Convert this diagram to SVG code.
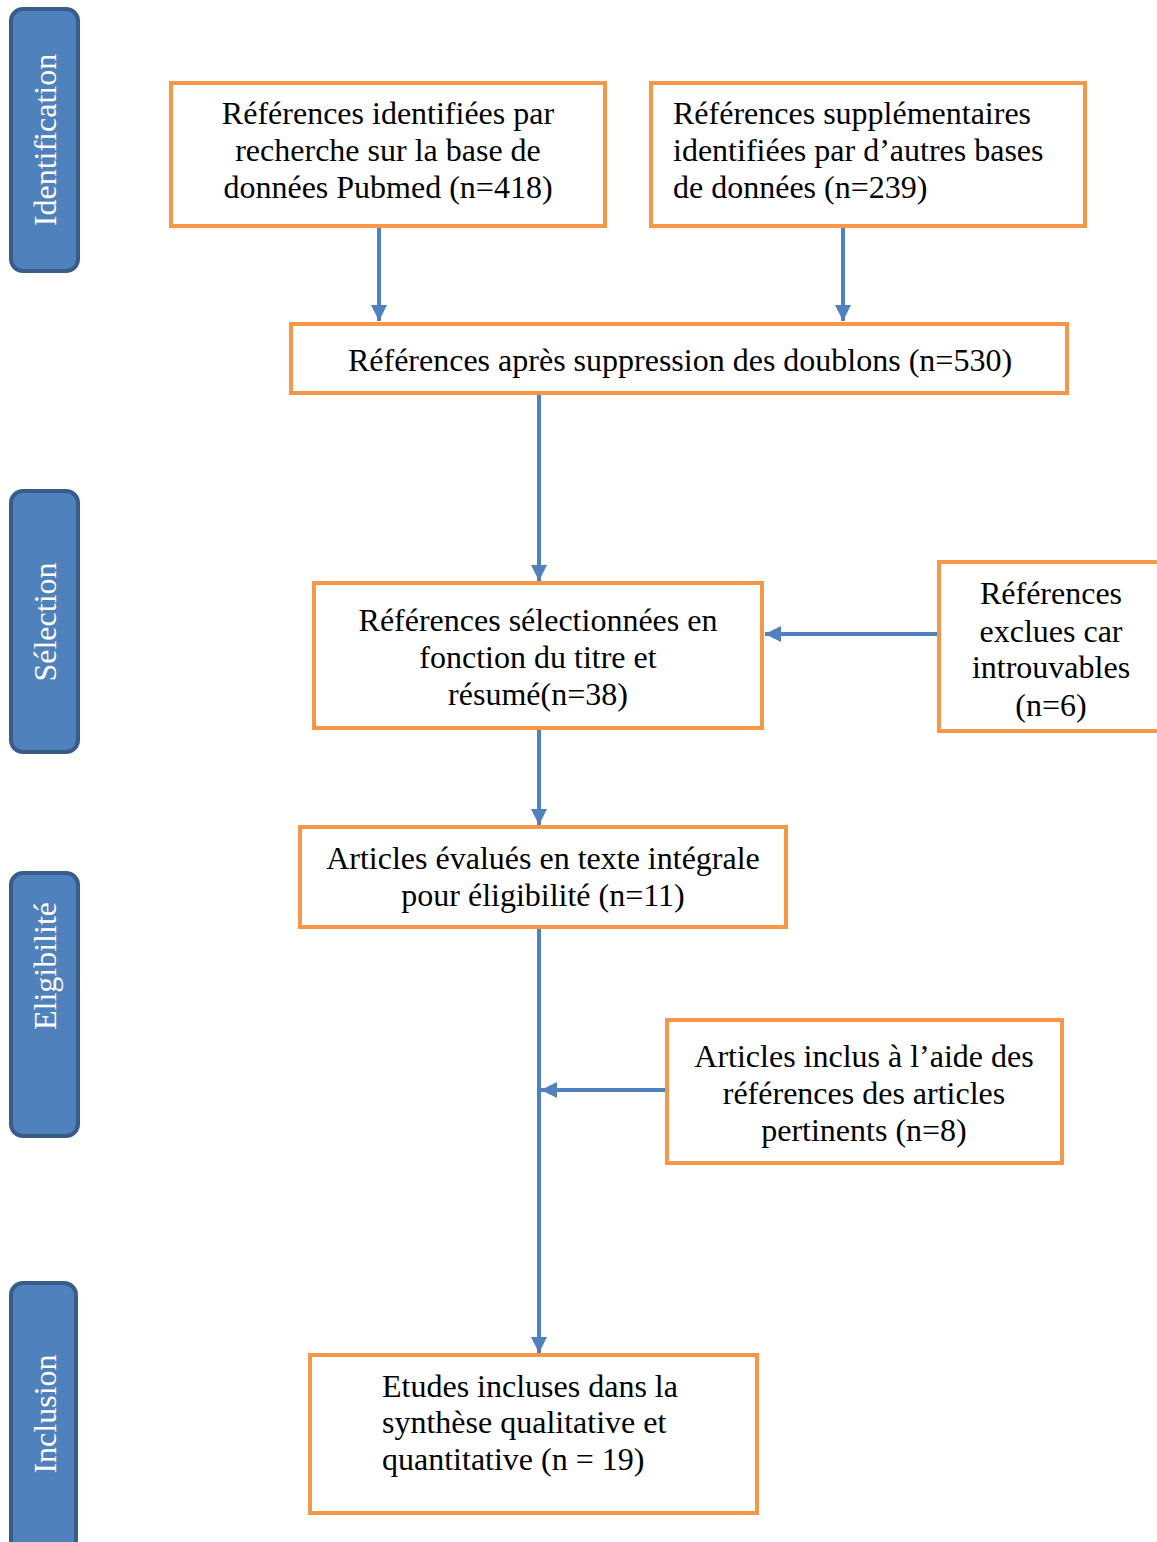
<svg xmlns="http://www.w3.org/2000/svg" width="1157" height="1542" viewBox="0 0 1157 1542">
<style>
.box{fill:#fff;stroke:#f79646;stroke-width:4}
.bar{fill:#4f81bd;stroke:#385d8a;stroke-width:4}
.t{font-family:"Liberation Serif","Times New Roman",serif;font-size:32px;fill:#000}
.c{text-anchor:middle}
.s{font-family:"Liberation Serif","Times New Roman",serif;font-size:32px;fill:#fff;text-anchor:middle}
.ln{stroke:#4f81bd;stroke-width:4;fill:none}
</style>
<defs>
<marker id="ah" viewBox="0 0 10 10" refX="10" refY="5" markerWidth="4" markerHeight="4" markerUnits="strokeWidth" orient="auto">
<path d="M0,0 L10,5 L0,10 z" fill="#4f81bd"/>
</marker>
</defs>
<rect width="1157" height="1542" fill="#fff"/>
<g id="bar-identification"><rect class="bar" x="11" y="9" width="67" height="262" rx="12"/><text class="s" transform="translate(56,140) rotate(-90)">Identification</text></g>
<g id="bar-selection"><rect class="bar" x="11" y="491" width="67" height="261" rx="12"/><text class="s" transform="translate(56,622) rotate(-90)">Sélection</text></g>
<g id="bar-eligibilite"><rect class="bar" x="11" y="873" width="67" height="263" rx="12"/><text class="s" transform="translate(56,966) rotate(-90)">Eligibilité</text></g>
<g id="bar-inclusion"><rect class="bar" x="11" y="1283" width="65" height="275" rx="12"/><text class="s" transform="translate(56,1414) rotate(-90)">Inclusion</text></g>

<g id="connectors">
<line class="ln" x1="379" y1="227" x2="379" y2="321" marker-end="url(#ah)"/>
<line class="ln" x1="843" y1="227" x2="843" y2="321" marker-end="url(#ah)"/>
<line class="ln" x1="539" y1="395" x2="539" y2="581" marker-end="url(#ah)"/>
<line class="ln" x1="938" y1="634" x2="765" y2="634" marker-end="url(#ah)"/>
<line class="ln" x1="539" y1="730" x2="539" y2="825" marker-end="url(#ah)"/>
<line class="ln" x1="539" y1="924" x2="539" y2="1353" marker-end="url(#ah)"/>
<line class="ln" x1="667" y1="1090" x2="541" y2="1090" marker-end="url(#ah)"/>
</g>

<g id="n1"><rect class="box" x="171" y="83" width="434" height="143"/>
<text class="t c" x="388" y="124">Références identifiées par</text>
<text class="t c" x="388" y="161">recherche sur la base de</text>
<text class="t c" x="388" y="198">données Pubmed (n=418)</text></g>
<g id="n2"><rect class="box" x="651" y="83" width="434" height="143"/>
<text class="t" x="673" y="124">Références supplémentaires</text>
<text class="t" x="673" y="161">identifiées par d’autres bases</text>
<text class="t" x="673" y="198">de données (n=239)</text></g>
<g id="n3"><rect class="box" x="291" y="324" width="776" height="69"/>
<text class="t c" x="680" y="371">Références après suppression des doublons (n=530)</text></g>
<g id="n4"><rect class="box" x="314" y="583" width="448" height="145"/>
<text class="t c" x="538" y="631">Références sélectionnées en</text>
<text class="t c" x="538" y="668">fonction du titre et</text>
<text class="t c" x="538" y="705">résumé(n=38)</text></g>
<g id="n5"><rect class="box" x="939" y="562" width="230" height="169"/>
<text class="t c" x="1051" y="604">Références</text>
<text class="t c" x="1051" y="642">exclues car</text>
<text class="t c" x="1051" y="678">introuvables</text>
<text class="t c" x="1051" y="716">(n=6)</text></g>
<g id="n6"><rect class="box" x="300" y="827" width="486" height="100"/>
<text class="t c" x="543" y="869">Articles évalués en texte intégrale</text>
<text class="t c" x="543" y="906">pour éligibilité (n=11)</text></g>
<g id="n7"><rect class="box" x="667" y="1020" width="395" height="143"/>
<text class="t c" x="864" y="1067">Articles inclus à l’aide des</text>
<text class="t c" x="864" y="1104">références des articles</text>
<text class="t c" x="864" y="1141">pertinents (n=8)</text></g>
<g id="n8"><rect class="box" x="310" y="1355" width="447" height="158"/>
<text class="t" x="382" y="1397">Etudes incluses dans la</text>
<text class="t" x="382" y="1433">synthèse qualitative et</text>
<text class="t" x="382" y="1470">quantitative (n = 19)</text></g>
</svg>
